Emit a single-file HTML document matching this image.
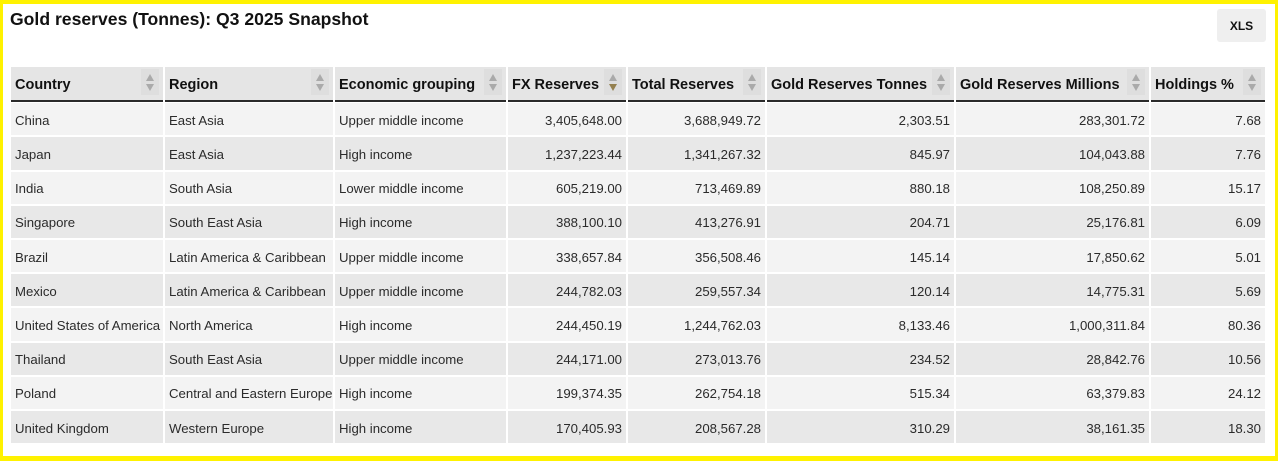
<!DOCTYPE html>
<html>
<head>
<meta charset="utf-8">
<style>
  html, body { margin:0; padding:0; background:#fff; }
  body { width:1280px; height:463px; position:relative; overflow:hidden; font-family:"Liberation Sans", Arial, sans-serif; }
  .frame { position:absolute; left:0; top:0; width:1278px; height:461px; box-sizing:border-box;
           border-style:solid; border-color:#fff200; border-width:4px 3px 5px 3px; }
  .title { position:absolute; left:10px; top:11.3px; font-size:17.6px; line-height:17.6px; font-weight:bold; color:#111; white-space:nowrap; }
  .xls { position:absolute; left:1217px; top:9px; width:49px; height:33px; background:#efefef; border-radius:3px;
         font-size:12px; font-weight:bold; color:#111; text-align:center; line-height:34px; }
  .grid { position:absolute; left:11px; display:grid;
          grid-template-columns:152px 168px 171px 118px 137px 187px 193px 114px; column-gap:2px; }
  .head { top:67.3px; }
  .head div { position:relative; height:31px; padding-top:2px; line-height:33px; background:#e5e5e5; border-bottom:2px solid #2a2a2a;
              font-size:14.5px; font-weight:bold; color:#111; padding-left:4px; white-space:nowrap; box-sizing:content-box; }
  .sort { position:absolute; right:4px; top:2px; width:18px; height:26px; background:#dedede; }
  .sort:before { content:""; position:absolute; left:5px; top:5px; width:0; height:0;
                 border-left:4px solid transparent; border-right:4px solid transparent; border-bottom:7px solid #aaaaaa; }
  .sort:after { content:""; position:absolute; left:5px; top:15px; width:0; height:0;
                border-left:4px solid transparent; border-right:4px solid transparent; border-top:7px solid #aaaaaa; }
  .sort.desc:after { border-top-color:#94804f; }
  .body { top:103.3px; row-gap:2px; grid-auto-rows:32.2px; }
  .body div { box-sizing:border-box; padding-top:1.6px; line-height:32.2px; font-size:13.2px; color:#2b2b2b; white-space:nowrap; overflow:hidden; }
  .body div.l { padding-left:4px; }
  .body div.n { text-align:right; padding-right:4px; }
  .o { background:#f3f3f3; }
  .e { background:#e8e8e8; }
</style>
</head>
<body>
<div class="frame"></div>
<div class="title">Gold reserves (Tonnes): Q3 2025 Snapshot</div>
<div class="xls">XLS</div>

<div class="grid head">
  <div>Country<span class="sort"></span></div>
  <div>Region<span class="sort"></span></div>
  <div>Economic grouping<span class="sort"></span></div>
  <div>FX Reserves<span class="sort desc"></span></div>
  <div>Total Reserves<span class="sort"></span></div>
  <div>Gold Reserves Tonnes<span class="sort"></span></div>
  <div>Gold Reserves Millions<span class="sort"></span></div>
  <div>Holdings %<span class="sort"></span></div>
</div>

<div class="grid body">
  <div class="l o">China</div><div class="l o">East Asia</div><div class="l o">Upper middle income</div><div class="n o">3,405,648.00</div><div class="n o">3,688,949.72</div><div class="n o">2,303.51</div><div class="n o">283,301.72</div><div class="n o">7.68</div>
  <div class="l e">Japan</div><div class="l e">East Asia</div><div class="l e">High income</div><div class="n e">1,237,223.44</div><div class="n e">1,341,267.32</div><div class="n e">845.97</div><div class="n e">104,043.88</div><div class="n e">7.76</div>
  <div class="l o">India</div><div class="l o">South Asia</div><div class="l o">Lower middle income</div><div class="n o">605,219.00</div><div class="n o">713,469.89</div><div class="n o">880.18</div><div class="n o">108,250.89</div><div class="n o">15.17</div>
  <div class="l e">Singapore</div><div class="l e">South East Asia</div><div class="l e">High income</div><div class="n e">388,100.10</div><div class="n e">413,276.91</div><div class="n e">204.71</div><div class="n e">25,176.81</div><div class="n e">6.09</div>
  <div class="l o">Brazil</div><div class="l o">Latin America &amp; Caribbean</div><div class="l o">Upper middle income</div><div class="n o">338,657.84</div><div class="n o">356,508.46</div><div class="n o">145.14</div><div class="n o">17,850.62</div><div class="n o">5.01</div>
  <div class="l e">Mexico</div><div class="l e">Latin America &amp; Caribbean</div><div class="l e">Upper middle income</div><div class="n e">244,782.03</div><div class="n e">259,557.34</div><div class="n e">120.14</div><div class="n e">14,775.31</div><div class="n e">5.69</div>
  <div class="l o">United States of America</div><div class="l o">North America</div><div class="l o">High income</div><div class="n o">244,450.19</div><div class="n o">1,244,762.03</div><div class="n o">8,133.46</div><div class="n o">1,000,311.84</div><div class="n o">80.36</div>
  <div class="l e">Thailand</div><div class="l e">South East Asia</div><div class="l e">Upper middle income</div><div class="n e">244,171.00</div><div class="n e">273,013.76</div><div class="n e">234.52</div><div class="n e">28,842.76</div><div class="n e">10.56</div>
  <div class="l o">Poland</div><div class="l o">Central and Eastern Europe</div><div class="l o">High income</div><div class="n o">199,374.35</div><div class="n o">262,754.18</div><div class="n o">515.34</div><div class="n o">63,379.83</div><div class="n o">24.12</div>
  <div class="l e">United Kingdom</div><div class="l e">Western Europe</div><div class="l e">High income</div><div class="n e">170,405.93</div><div class="n e">208,567.28</div><div class="n e">310.29</div><div class="n e">38,161.35</div><div class="n e">18.30</div>
</div>
</body>
</html>
